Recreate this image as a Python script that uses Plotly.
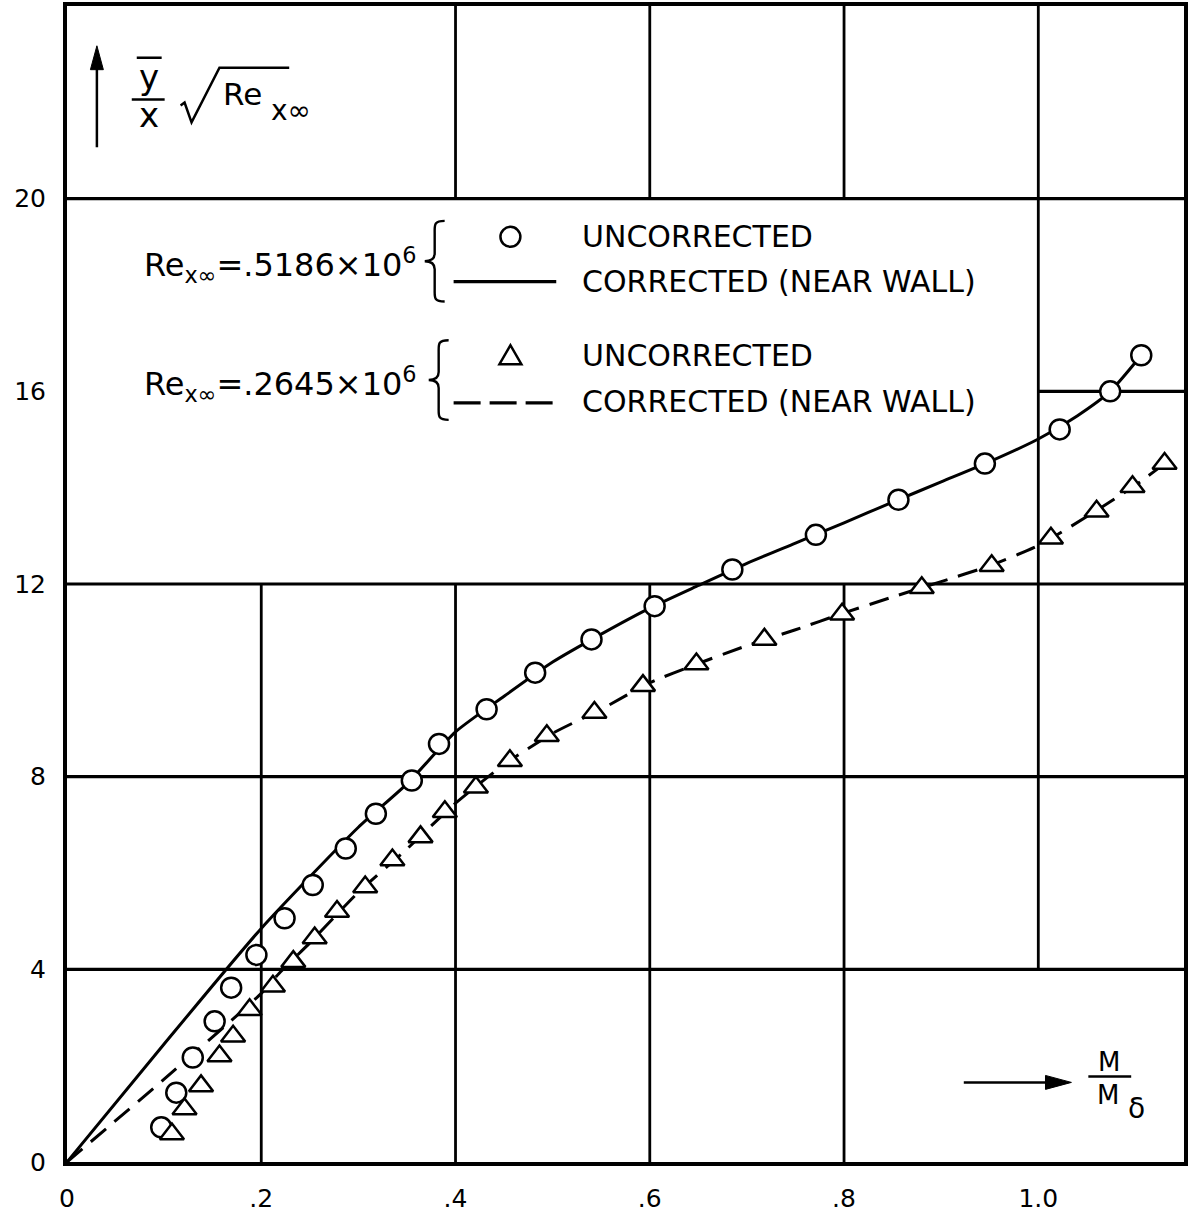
import plotly.graph_objects as go

# ---------------- data ----------------
# Re_x∞ = .5186e6 : uncorrected (circles)
m_unc_a = [0.097, 0.1125, 0.1295, 0.152, 0.169, 0.195, 0.224, 0.253, 0.287, 0.318,
           0.355, 0.383, 0.432, 0.482, 0.540, 0.605, 0.685, 0.771, 0.856, 0.945,
           1.022, 1.074, 1.106]
y_unc_a = [0.72, 1.44, 2.17, 2.92, 3.62, 4.30, 5.06, 5.75, 6.51, 7.23,
           7.92, 8.68, 9.40, 10.16, 10.85, 11.54, 12.30, 13.02, 13.75, 14.50,
           15.21, 16.00, 16.75]
# corrected (near wall), solid
m_cor_a = [0.0, 0.1, 0.2, 0.3, 0.35, 0.4, 0.45, 0.5, 0.55, 0.6, 0.65, 0.7, 0.75,
           0.8, 0.85, 0.9, 0.95, 1.0, 1.04, 1.074, 1.106]
y_cor_a = [0.0, 2.45, 4.85, 6.95, 7.85, 8.93, 9.67, 10.38, 10.96, 11.5, 11.97, 12.43, 12.85,
           13.27, 13.70, 14.12, 14.54, 15.01, 15.49, 16.0, 16.75]

# Re_x∞ = .2645e6 : uncorrected (triangles)
m_unc_b = [0.108, 0.121, 0.138, 0.157, 0.171, 0.188, 0.212, 0.233, 0.255, 0.278,
           0.307, 0.335, 0.364, 0.389, 0.421, 0.456, 0.494, 0.543, 0.593, 0.648,
           0.718, 0.798, 0.880, 0.952, 1.013, 1.060, 1.097, 1.130]
y_unc_b = [0.58, 1.10, 1.58, 2.20, 2.61, 3.16, 3.65, 4.16, 4.65, 5.20,
           5.71, 6.27, 6.75, 7.27, 7.78, 8.33, 8.85, 9.33, 9.89, 10.34,
           10.85, 11.37, 11.92, 12.38, 12.95, 13.51, 14.02, 14.50]
# corrected (near wall), dashed
m_cor_b = [0.0, 0.1, 0.2, 0.2185, 0.25, 0.3, 0.35, 0.4, 0.45, 0.5, 0.55, 0.6, 0.65,
           0.7, 0.75, 0.8, 0.85, 0.9, 0.95, 1.0, 1.05, 1.1, 1.130]
y_cor_b = [0.0, 1.72, 3.5, 3.92, 4.55, 5.6, 6.5, 7.45, 8.25, 8.9, 9.4, 9.95, 10.35,
           10.72, 11.05, 11.4, 11.73, 12.05, 12.38, 12.8, 13.4, 14.05, 14.5]

x_ticks = [0, 0.2, 0.4, 0.6, 0.8, 1.0]
x_ticktext = ["0", ".2", ".4", ".6", ".8", "1.0"]
y_ticks = [0, 4, 8, 12, 16, 20]
y_ticktext = ["0", "4", "8", "12", "16", "20"]

# ---------------- layout geometry ----------------
W, H = 1190, 1215
L, R, T, B = 67, 2, 6, 47
PW, PH = W - L - R, H - T - B
XMAX, YMAX = 1.15, 24.0
FONT = "DejaVu Sans"


def PX(px):
    return (px - L) / PW


def PY(py):
    return (H - B - py) / PH


fig = go.Figure()

fig.add_trace(go.Scatter(x=m_cor_a, y=y_cor_a, mode="lines",
                         line=dict(color="black", width=3, shape="spline", smoothing=0.6),
                         hoverinfo="skip"))
fig.add_trace(go.Scatter(x=m_cor_b, y=y_cor_b, mode="lines",
                         line=dict(color="black", width=3, dash="20px,11px", shape="spline",
                                   smoothing=0.6),
                         hoverinfo="skip"))
fig.add_trace(go.Scatter(x=m_unc_a, y=y_unc_a, mode="markers",
                         marker=dict(symbol="circle", size=20, color="white",
                                     line=dict(color="black", width=2.5))))
fig.add_trace(go.Scatter(x=m_unc_b, y=y_unc_b, mode="markers",
                         marker=dict(symbol="triangle-up", size=21, color="white",
                                     line=dict(color="black", width=2.5))))

shapes = []
# partial grid (as drawn on the original sheet)
h_segments = [(20, 0, XMAX), (16, 1.0, XMAX), (12, 0, XMAX), (8, 0, XMAX), (4, 0, XMAX)]
v_segments = [(0.2, 0, 12), (0.4, 0, 12), (0.4, 20, YMAX), (0.6, 0, 12), (0.6, 20, YMAX),
              (0.8, 0, 12), (0.8, 20, YMAX), (1.0, 4, YMAX)]
for yv, xa, xb in h_segments:
    shapes.append(dict(type="line", xref="x", yref="y", x0=xa, x1=xb, y0=yv, y1=yv,
                       line=dict(color="black", width=3.2), layer="below"))
for xv, ya, yb in v_segments:
    shapes.append(dict(type="line", xref="x", yref="y", x0=xv, x1=xv, y0=ya, y1=yb,
                       line=dict(color="black", width=2.8), layer="below"))


def pline(x0, y0, x1, y1, w=2.5, dash=None):
    d = dict(type="line", xref="paper", yref="paper", x0=PX(x0), y0=PY(y0),
             x1=PX(x1), y1=PY(y1), line=dict(color="black", width=w))
    if dash:
        d["line"]["dash"] = dash
    return d


def ppath(cmds, fill=None, w=2.5):
    parts = []
    for c in cmds:
        op = c[0]
        nums = c[1:]
        coords = []
        for i in range(0, len(nums), 2):
            coords.append(f"{PX(nums[i]):.5f},{PY(nums[i + 1]):.5f}")
        parts.append(op + " " + " ".join(coords))
    path = " ".join(parts)
    if fill:
        path += " Z"
    d = dict(type="path", xref="paper", yref="paper", path=path,
             line=dict(color="black", width=w))
    d["fillcolor"] = fill if fill else "rgba(0,0,0,0)"
    return d


def brace(xr, ytop, ybot):
    # xr: right ends of hooks, tip points left
    ym = (ytop + ybot) / 2
    xs = xr - 10
    xt = xr - 20
    return ppath([
        ("M", xr, ytop),
        ("C", xs - 1, ytop, xs, ytop + 4, xs, ytop + 12),
        ("L", xs, ym - 8),
        ("C", xs, ym - 3, xs - 3, ym, xt, ym),
        ("C", xs - 3, ym, xs, ym + 3, xs, ym + 8),
        ("L", xs, ybot - 12),
        ("C", xs, ybot - 4, xs - 1, ybot, xr, ybot),
    ], w=2.4)


# legend braces and samples
shapes.append(brace(446, 222, 303))
shapes.append(brace(450, 342, 422))
shapes.append(dict(type="circle", xref="paper", yref="paper",
                   x0=PX(502), x1=PX(522), y0=PY(248), y1=PY(228),
                   line=dict(color="black", width=2.5), fillcolor="white"))
shapes.append(pline(455, 283, 558, 283, w=3.2))
shapes.append(ppath([("M", 501, 366), ("L", 523, 366), ("L", 512, 347)], fill="white", w=2.5))
shapes.append(pline(455, 405, 556, 405, w=3.2, dash="27px,9px"))

# y-axis label: arrow + fraction + radical
shapes.append(pline(97, 148, 97, 66, w=2.5))
shapes.append(ppath([("M", 97, 46), ("L", 90.5, 70), ("L", 103.5, 70)], fill="black", w=1))
shapes.append(pline(137, 58, 162, 58, w=2.5))
shapes.append(pline(132, 100, 165, 100, w=2.5))
shapes.append(ppath([("M", 181, 106), ("L", 185, 103), ("L", 192, 123), ("L", 220, 68),
                     ("L", 290, 68)], w=2.5))

# x-axis label: arrow + fraction
shapes.append(pline(967, 1088, 1052, 1088, w=2.5))
shapes.append(ppath([("M", 1075, 1088), ("L", 1049, 1081), ("L", 1049, 1095)], fill="black", w=1))
shapes.append(pline(1092, 1082, 1135, 1082, w=2.5))

annotations = []


def ptext(x, y, text, size, xanchor="left", yanchor="middle"):
    annotations.append(dict(x=PX(x), y=PY(y), xref="paper", yref="paper", text=text,
                            showarrow=False, xanchor=xanchor, yanchor=yanchor,
                            font=dict(family=FONT, size=size, color="black")))


# y label text
ptext(149, 77, "y", 34, xanchor="center")
ptext(149, 116, "x", 34, xanchor="center")
ptext(222, 94, "Re", 31)
ptext(270, 111, "x∞", 28)

# x label text
ptext(1113, 1067, "M", 26, xanchor="center")
ptext(1112, 1101, "M", 26, xanchor="center")
ptext(1140, 1114, "δ", 28, xanchor="center")

# legend text
ptext(142, 266, "Re<sub>x∞</sub>=.5186×10<sup>6</sup>", 32)
ptext(142, 386, "Re<sub>x∞</sub>=.2645×10<sup>6</sup>", 32)
ptext(582, 238, "UNCORRECTED", 30)
ptext(582, 283, "CORRECTED (NEAR WALL)", 30)
ptext(582, 357, "UNCORRECTED", 30)
ptext(582, 404, "CORRECTED (NEAR WALL)", 30)

fig.update_layout(
    width=W, height=H,
    margin=dict(l=L, r=R, t=T, b=B, pad=0),
    paper_bgcolor="white", plot_bgcolor="white",
    showlegend=False,
    shapes=shapes, annotations=annotations,
    font=dict(family=FONT, color="black"),
    xaxis=dict(range=[0, XMAX], showgrid=False, zeroline=False, showline=True, mirror=True,
               linecolor="black", linewidth=4, tickvals=x_ticks, ticktext=x_ticktext,
               ticks="", tickfont=dict(family=FONT, size=25, color="black"),
               ticklabelstandoff=11),
    yaxis=dict(range=[0, YMAX], showgrid=False, zeroline=False, showline=True, mirror=True,
               linecolor="black", linewidth=4, tickvals=y_ticks, ticktext=y_ticktext,
               ticks="", tickfont=dict(family=FONT, size=25, color="black"),
               ticklabelstandoff=12),
)

fig.write_html("out.html")
